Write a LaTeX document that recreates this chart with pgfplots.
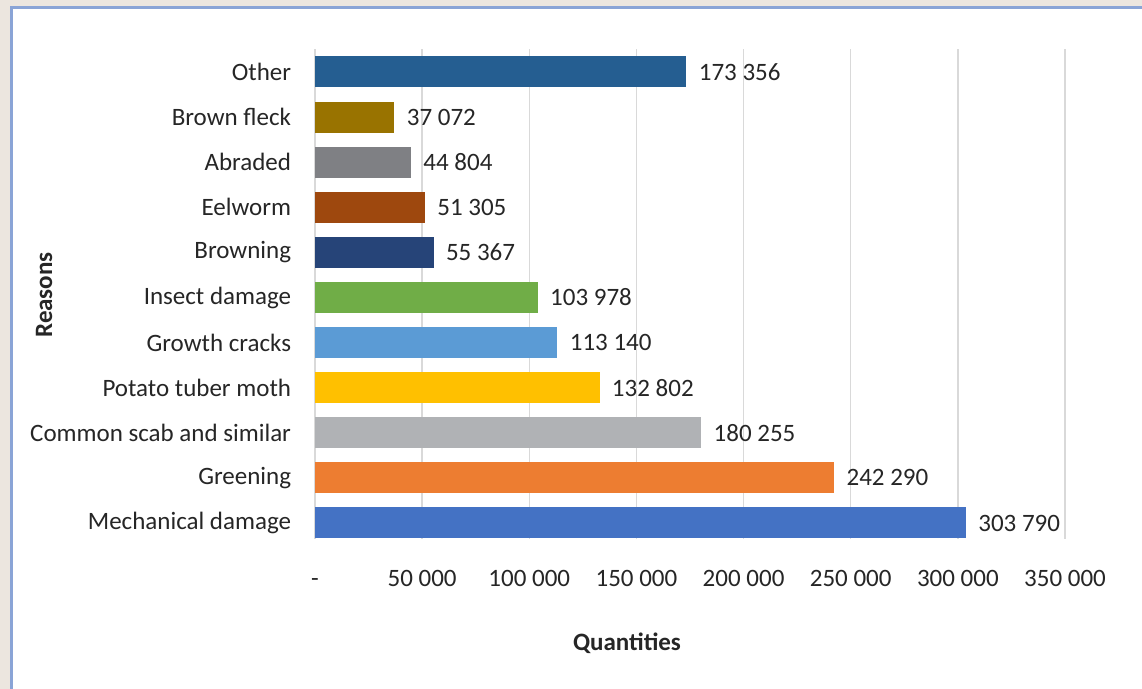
\documentclass[border=0pt]{standalone}
\usepackage{fontspec}
\setmainfont{Carlito}
\usepackage{pgfplots}
\pgfplotsset{compat=1.18}

\definecolor{bgpaper}{RGB}{236,230,223}
\definecolor{framecol}{RGB}{138,164,214}
\definecolor{gridcol}{RGB}{217,217,217}
\definecolor{txt}{RGB}{38,38,38}
\definecolor{cMech}{RGB}{68,114,196}
\definecolor{cGreen}{RGB}{237,125,49}
\definecolor{cScab}{RGB}{176,178,181}
\definecolor{cMoth}{RGB}{255,192,0}
\definecolor{cCrack}{RGB}{91,155,213}
\definecolor{cInsect}{RGB}{112,173,71}
\definecolor{cBrowning}{RGB}{38,68,120}
\definecolor{cEel}{RGB}{158,72,14}
\definecolor{cAbraded}{RGB}{127,128,132}
\definecolor{cFleck}{RGB}{153,115,0}
\definecolor{cOther}{RGB}{37,94,145}

\begin{document}
\begin{tikzpicture}
% canvas 1142x689 px at 0.5pt per px
\useasboundingbox (0,0) rectangle (571pt,344.5pt);
\fill[bgpaper] (0,0) rectangle (571pt,344.5pt);
\filldraw[fill=white, draw=framecol, line width=1.5pt] (5.5pt,-5pt) rectangle (576pt,340.5pt);

\begin{axis}[
  at={(157.5pt,75pt)}, anchor=south west,
  scale only axis,
  width=375pt, height=245pt,
  xbar, bar width=15.5pt, bar shift=0pt,
  xmin=0, xmax=350000,
  ymin=-0.355, ymax=10.51,
  xtick={0,50000,100000,150000,200000,250000,300000,350000},
  xticklabels={-,50 000,100 000,150 000,200 000,250 000,300 000,350 000},
  ytick={0,1,2,3,4,5,6,7,8,9,10},
  yticklabels={Mechanical damage,Greening,Common scab and similar,Potato tuber moth,Growth cracks,Insect damage,Browning,Eelworm,Abraded,Brown fleck,Other},
  scaled x ticks=false,
  axis line style={draw=none},
  tick style={draw=none},
  xmajorgrids, grid style={gridcol, line width=0.75pt},
  ticklabel style={font=\fontsize{12.5}{15}\selectfont, text=txt},
  xticklabel style={anchor=base, inner sep=0pt, yshift=-24pt},
  yticklabel style={anchor=east, inner sep=0pt, xshift=-7.5pt},
  point meta=explicit symbolic,
  nodes near coords,
  nodes near coords style={anchor=west, inner sep=0pt, xshift=6pt, font=\fontsize{12.5}{15}\selectfont, text=txt},
  clip=false,
]
\addplot[fill=cMech, draw=none] coordinates {(303790,0) [303 790]};
\addplot[fill=cGreen, draw=none] coordinates {(242290,1) [242 290]};
\addplot[fill=cScab, draw=none] coordinates {(180255,2) [180 255]};
\addplot[fill=cMoth, draw=none] coordinates {(132802,3) [132 802]};
\addplot[fill=cCrack, draw=none] coordinates {(113140,4) [113 140]};
\addplot[fill=cInsect, draw=none] coordinates {(103978,5) [103 978]};
\addplot[fill=cBrowning, draw=none] coordinates {(55367,6) [55 367]};
\addplot[fill=cEel, draw=none] coordinates {(51305,7) [51 305]};
\addplot[fill=cAbraded, draw=none] coordinates {(44804,8) [44 804]};
\addplot[fill=cFleck, draw=none] coordinates {(37072,9) [37 072]};
\addplot[fill=cOther, draw=none] coordinates {(173356,10) [173 356]};
\end{axis}

\node[rotate=90, text=txt, font=\fontsize{12.5}{15}\selectfont\bfseries] at (22pt,197pt) {Reasons};
\node[text=txt, font=\fontsize{12.5}{15}\selectfont\bfseries] at (313.5pt,23pt) {Quantities};
\end{tikzpicture}
\end{document}
